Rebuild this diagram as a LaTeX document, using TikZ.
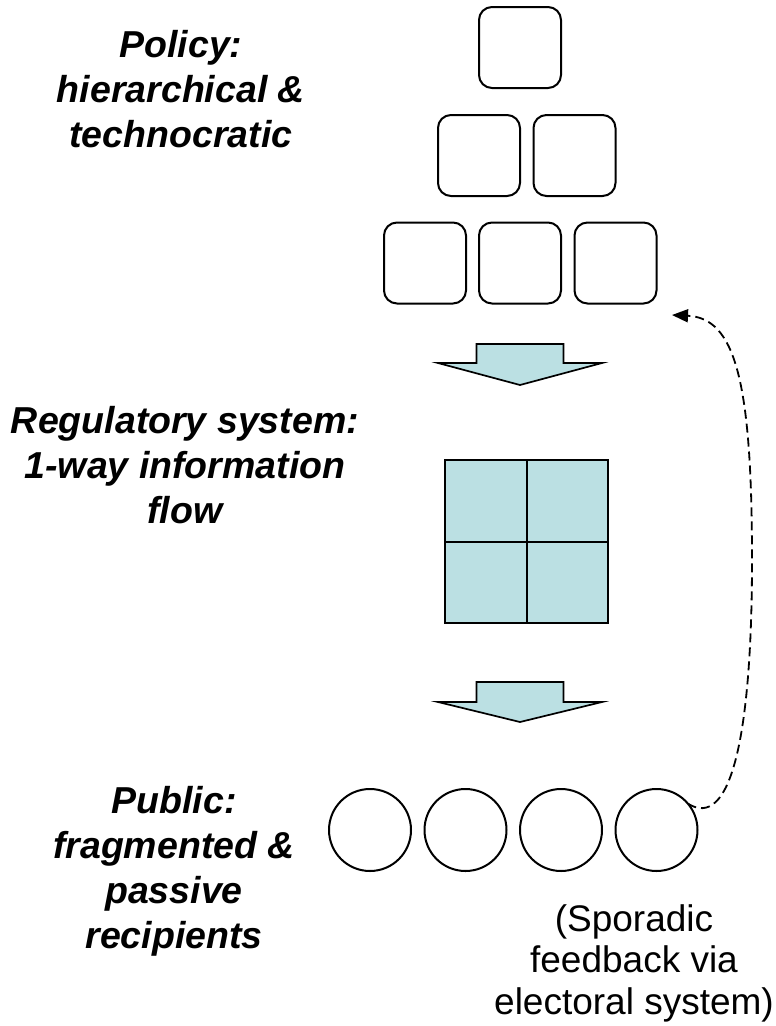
\documentclass[tikz,border=0pt]{standalone}
\usepackage{fontspec}
\setmainfont{Liberation Sans}
\usetikzlibrary{arrows.meta,calc}
\definecolor{paleblue}{HTML}{BBE0E3}
\begin{document}
\begin{tikzpicture}[x=1pt,y=-1pt,
  rbox/.style={draw=black, line width=2pt, rounded corners=13pt, minimum width=82pt, minimum height=81pt, inner sep=0pt, outer sep=0pt},
  cell/.style={draw=black, line width=2pt, fill=paleblue, minimum width=81.5pt, minimum height=81.5pt, inner sep=0pt, outer sep=0pt},
  person/.style={draw=black, line width=2pt, circle, minimum size=82pt, inner sep=0pt, outer sep=0pt},
  blockarrow/.style={draw=black, line width=1.7pt, fill=paleblue, line join=miter},
  lbl/.style={align=center, inner sep=0pt, font=\fontsize{37.5}{45}\selectfont\bfseries\itshape},
  note/.style={align=center, inner sep=0pt, font=\fontsize{37}{41.5}\selectfont},
  feedback/.style={draw=black, line width=1.8pt, dash pattern=on 9pt off 5pt, -{Triangle[length=16pt,width=13pt]}}
]
\useasboundingbox (0,0) rectangle (776,1026);

% hierarchy boxes
\node[rbox] (p11) at (520,47.5) {};
\node[rbox] (p21) at (479,155.5) {};
\node[rbox] (p22) at (574.5,155.5) {};
\node[rbox] (p31) at (425,263) {};
\node[rbox] (p32) at (520,263) {};
\node[rbox] (p33) at (615.5,263) {};

% block arrows
\coordinate (a1) at (520,344);
\draw[blockarrow] ($(a1)+(-43.5,0)$) -- ($(a1)+(43.5,0)$) -- ($(a1)+(43.5,19)$) -- ($(a1)+(82,19)$) -- ($(a1)+(0,41)$) -- ($(a1)+(-82,19)$) -- ($(a1)+(-43.5,19)$) -- cycle;
\coordinate (a2) at (520,682);
\draw[blockarrow] ($(a2)+(-43.5,0)$) -- ($(a2)+(43.5,0)$) -- ($(a2)+(43.5,20)$) -- ($(a2)+(82,20)$) -- ($(a2)+(0,40)$) -- ($(a2)+(-82,20)$) -- ($(a2)+(-43.5,20)$) -- cycle;

% regulatory grid
\node[cell] (g11) at (485.75,500.75) {};
\node[cell] (g12) at (567.25,500.75) {};
\node[cell] (g21) at (485.75,582.25) {};
\node[cell] (g22) at (567.25,582.25) {};

% public
\node[person] (c1) at (370,830) {};
\node[person] (c2) at (465.5,830) {};
\node[person] (c3) at (561,830) {};
\node[person] (c4) at (656.5,830) {};

% feedback
\coordinate (fbend) at (672,315);
\draw[feedback] (c4.40) .. controls (730,830) and (752,740) .. (752,560) .. controls (752,380) and (735,318) .. (fbend);

% labels
\node[lbl, anchor=north] (tpol) at (181,30.5) {Policy:\\hierarchical \&\\technocratic};
\node[lbl, anchor=north] (treg) at (185,406) {Regulatory system:\\1-way information\\flow};
\node[lbl, anchor=north] (tpub) at (174,786) {Public:\\fragmented \&\\passive\\recipients};
\node[note, anchor=north] (tnote) at (634,904) {(Sporadic\\feedback via\\electoral system)};
\end{tikzpicture}
\end{document}
